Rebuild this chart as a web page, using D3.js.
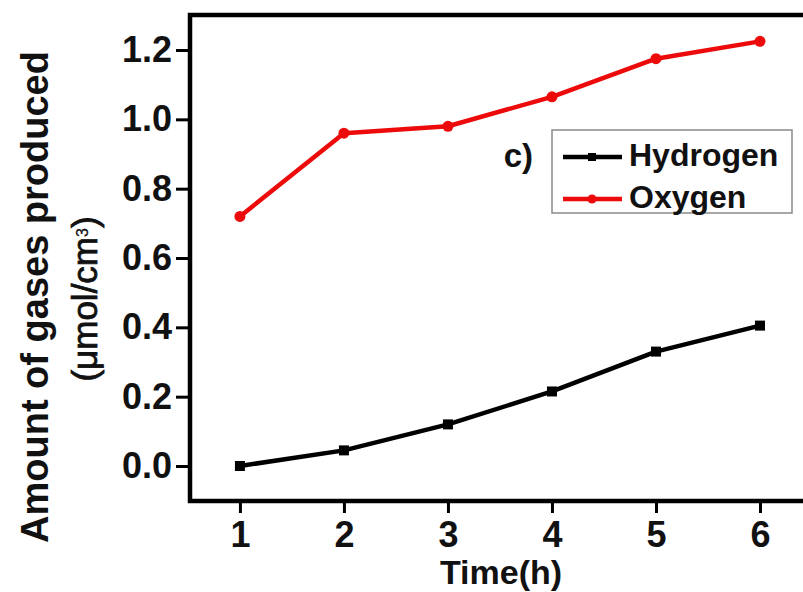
<!DOCTYPE html>
<html>
<head>
<meta charset="utf-8">
<script src="https://cdn.jsdelivr.net/npm/d3@7"></script>
<style>
  html, body { margin: 0; padding: 0; background: #fff; }
  svg { display: block; }
  text { font-family: "Liberation Sans", Arial, sans-serif; fill: #111; }
</style>
</head>
<body>
<svg id="chart" width="803" height="592"></svg>
<script>
// Gas evolution over time
const hours = [1, 2, 3, 4, 5, 6];
const hydrogen = [0.0, 0.045, 0.12, 0.215, 0.33, 0.405];
const oxygen = [0.72, 0.96, 0.98, 1.065, 1.175, 1.225];
const yTicks = [0.0, 0.2, 0.4, 0.6, 0.8, 1.0, 1.2];
const seriesNames = ["Hydrogen", "Oxygen"];

const svg = d3.select("#chart");
const plotLeft = 190, plotRight = 812, plotTop = 15, plotBottom = 501;

const x = d3.scaleLinear().domain([0.52, 6.5]).range([plotLeft, plotRight]);
const y = d3.scaleLinear().domain([-0.101, 1.301]).range([plotBottom, plotTop]);

// frame
svg.append("rect")
  .attr("x", plotLeft).attr("y", plotTop)
  .attr("width", plotRight - plotLeft).attr("height", plotBottom - plotTop)
  .attr("fill", "none").attr("stroke", "#000").attr("stroke-width", 4.5);

// x axis
const xAxis = svg.append("g")
  .attr("transform", `translate(0,${plotBottom})`)
  .call(d3.axisBottom(x).tickValues(hours).tickFormat(d3.format("d")).tickSize(12).tickPadding(8));
xAxis.select(".domain").remove();
xAxis.selectAll(".tick line").attr("stroke", "#000").attr("stroke-width", 3);
xAxis.selectAll(".tick text")
  .style("font-size", "36px").style("font-weight", "bold").attr("fill", "#111");

// y axis
const yAxis = svg.append("g")
  .attr("transform", `translate(${plotLeft},0)`)
  .call(d3.axisLeft(y).tickValues(yTicks).tickFormat(d3.format(".1f")).tickSize(14).tickPadding(4));
yAxis.select(".domain").remove();
yAxis.selectAll(".tick line").attr("stroke", "#000").attr("stroke-width", 3);
yAxis.selectAll(".tick text")
  .style("font-size", "36px").style("font-weight", "bold").attr("fill", "#111");

// axis titles
svg.append("text")
  .attr("x", 501).attr("y", 584)
  .attr("text-anchor", "middle")
  .style("font-size", "34px").style("font-weight", "bold")
  .text("Time(h)");

svg.append("text")
  .attr("transform", "translate(48,297) rotate(-90)")
  .attr("text-anchor", "middle")
  .style("font-size", "38px").style("font-weight", "bold")
  .text("Amount of gases produced");

const unit = svg.append("text")
  .attr("transform", "translate(97,299) rotate(-90)")
  .attr("text-anchor", "middle")
  .attr("stroke", "#111").attr("stroke-width", 0.8)
  .style("font-size", "35px");
unit.append("tspan").text("(\u03bcmol/cm");
unit.append("tspan").attr("dy", "-0.55em").attr("stroke-width", 0.3).style("font-size", "16px").text("3");
unit.append("tspan").attr("dy", "0.25em").text(")");

// series
const colors = { Hydrogen: "#000", Oxygen: "#ec0a0a" };
const line = d3.line().x((d, i) => x(hours[i])).y(d => y(d));

svg.append("path").datum(hydrogen)
  .attr("d", line).attr("fill", "none")
  .attr("stroke", colors.Hydrogen).attr("stroke-width", 4.5).attr("stroke-linejoin", "round");
svg.selectAll(".h-pt").data(hydrogen).enter().append("rect")
  .attr("x", (d, i) => x(hours[i]) - 5).attr("y", d => y(d) - 5)
  .attr("width", 10).attr("height", 10).attr("fill", colors.Hydrogen);

svg.append("path").datum(oxygen)
  .attr("d", line).attr("fill", "none")
  .attr("stroke", colors.Oxygen).attr("stroke-width", 4.5).attr("stroke-linejoin", "round");
svg.selectAll(".o-pt").data(oxygen).enter().append("circle")
  .attr("cx", (d, i) => x(hours[i])).attr("cy", d => y(d))
  .attr("r", 5.5).attr("fill", colors.Oxygen);

// legend
svg.append("rect")
  .attr("x", 552).attr("y", 130).attr("width", 240).attr("height", 83)
  .attr("fill", "#fff").attr("stroke", "#8a8a8a").attr("stroke-width", 1.5);

const rows = [157, 199];
seriesNames.forEach((name, i) => {
  const g = svg.append("g");
  g.append("line")
    .attr("x1", 563).attr("x2", 622).attr("y1", rows[i]).attr("y2", rows[i])
    .attr("stroke", colors[name]).attr("stroke-width", 4.5);
  if (name === "Hydrogen") {
    g.append("rect").attr("x", 588).attr("y", rows[i] - 4).attr("width", 8).attr("height", 8)
      .attr("fill", colors[name]);
  } else {
    g.append("circle").attr("cx", 592).attr("cy", rows[i]).attr("r", 4.5).attr("fill", colors[name]);
  }
  g.append("text")
    .attr("x", 629).attr("y", rows[i] + 9)
    .style("font-size", "32px").style("font-weight", "bold")
    .text(name);
});

svg.append("text")
  .attr("x", 533).attr("y", 167)
  .attr("text-anchor", "end")
  .style("font-size", "33px").style("font-weight", "bold")
  .text("c)");
</script>
</body>
</html>
